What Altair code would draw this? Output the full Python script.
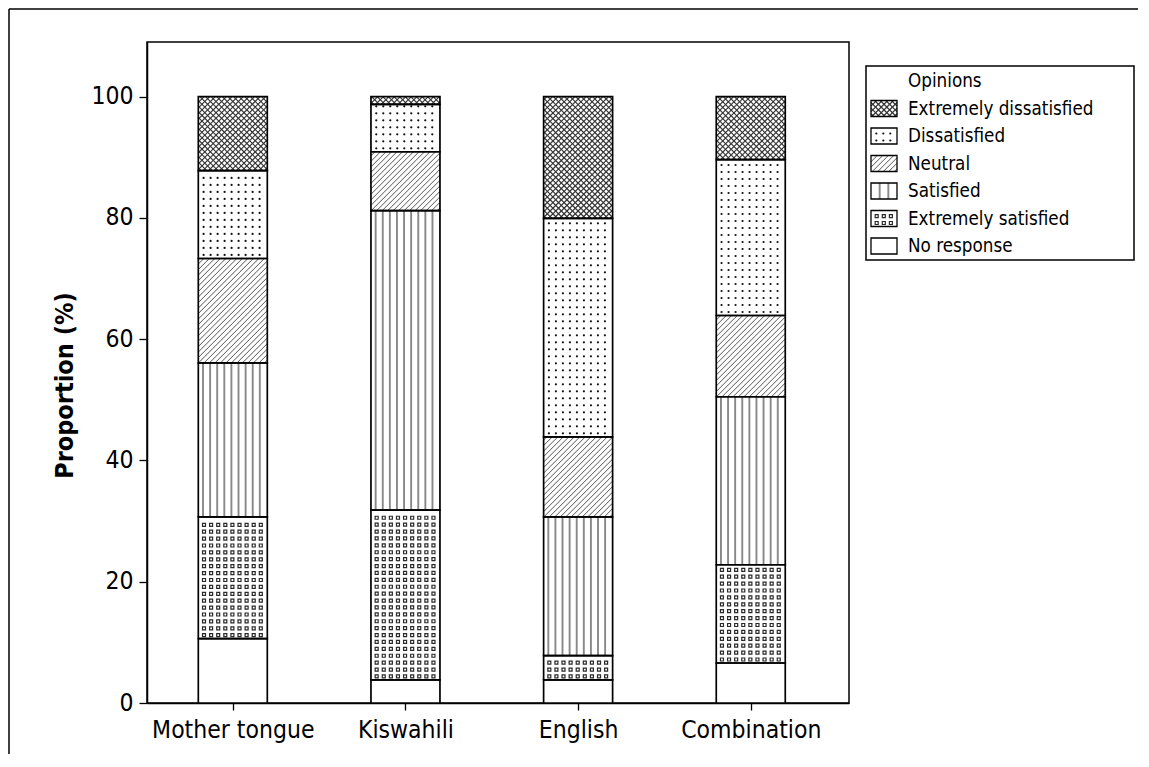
import json
import altair as alt
import pandas as pd

# ---------------- data ----------------
languages = ["Mother tongue", "Kiswahili", "English", "Combination"]
opinions = ["No response", "Extremely satisfied", "Satisfied", "Neutral",
            "Dissatisfied", "Extremely dissatisfied"]          # stacking order, bottom -> top
no_response            = [10.6,  3.8,  3.8,  6.6]
extremely_satisfied    = [20.1, 28.0,  4.0, 16.2]
satisfied              = [25.4, 49.4, 22.9, 27.7]
neutral                = [17.2,  9.7, 13.2, 13.4]
dissatisfied           = [14.5,  7.8, 36.0, 25.7]
extremely_dissatisfied = [12.2,  1.3, 20.1, 10.4]
legend_title = "Opinions"
legend_order = ["Extremely dissatisfied", "Dissatisfied", "Neutral", "Satisfied",
                "Extremely satisfied", "No response"]
y_ticks = [0, 20, 40, 60, 80, 100]
y_title = "Proportion (%)"

series = [no_response, extremely_satisfied, satisfied, neutral,
          dissatisfied, extremely_dissatisfied]

# ---------------- layout / style ----------------
FONT = "DejaVu Sans Condensed, DejaVu Sans"
PLOT_W, PLOT_H = 702, 661
Y_MAX = 109
PXU = PLOT_H / Y_MAX                 # px per percentage point
X_MIN, X_MAX = 0.503, 4.569          # category slots 1..4
XU = PLOT_W / (X_MAX - X_MIN)        # px per category slot
BAR_W = 69
HALF = BAR_W / 2 / XU
FRAME_L, FRAME_T, FRAME_B = 138, 33, 712
LX0 = PLOT_W + 17                    # legend box left (px from plot left)
LEG_W = 268
BOX_T, BOX_B = 24, 218
SW_X0, SW_W, SW_H = 5, 26, 16
ROW0, ROW_STEP = 39, 27.5            # legend row centres (px from plot top)
TEXT_X = 42

PATTERN = {"No response": None, "Extremely satisfied": "squares", "Satisfied": "vlines",
           "Neutral": "diag", "Dissatisfied": "dots", "Extremely dissatisfied": "cross"}


def pattern(kind, w, h, legend=False):
    """Decorative fill pattern inside a w x h pixel box (y measured from the bottom)."""
    lines, squares, dots = [], [], []
    if kind == "vlines":
        xs = [w / 3, 2 * w / 3] if legend else [4.7 + 7.1 * k for k in range(9) if 4.7 + 7.1 * k < w - 2]
        for x in xs:
            lines.append((x, 0, x, h, "#888888", 1.9))
    elif kind in ("diag", "cross"):
        sp = 5.5 if kind == "diag" else 5.6
        col = "#555555" if kind == "diag" else "#333333"
        wd = 1.0 if kind == "diag" else 1.15
        c = -w + sp / 2
        while c < h:
            xs_, xe = max(0.0, -c), min(w, h - c)
            if xe - xs_ > 0.3:
                lines.append((xs_, xs_ + c, xe, xe + c, col, wd))
            c += sp
        if kind == "cross":
            c = sp / 2
            while c < w + h:
                xs_, xe = max(0.0, c - h), min(w, c)
                if xe - xs_ > 0.3:
                    lines.append((xs_, c - xs_, xe, c - xe, col, wd))
                c += sp
    elif kind in ("squares", "dots"):
        x0, y0, sx, sy = (5.7, 3.5, 7.1, 6.9) if kind == "squares" else (5.3, 3.5, 7.0, 7.0)
        target = squares if kind == "squares" else dots
        y = y0
        while y < h - 1.5:
            x = x0
            while x < w - 1.5:
                target.append((x, y))
                x += sx
            y += sy
    return lines, squares, dots


# ---------------- main chart tables ----------------
rects, mlines, msq, mdots = [], [], [], []
for i, lang in enumerate(languages):
    pos = i + 1
    xl, xr = pos - HALF, pos + HALF
    lo = 0.0
    for op, ser in zip(opinions, series):
        hi = lo + ser[i]
        rects.append(dict(lang=lang, op=op, xl=xl, xr=xr, lo=lo, hi=hi))
        L, S, D = pattern(PATTERN[op], BAR_W, (hi - lo) * PXU)
        for j, (xa, ya, xb, yb, c, w) in enumerate(L):
            lid = f"{lang}|{op}|{j}"
            mlines.append(dict(lid=lid, k=0, x=xl + xa / XU, val=lo + ya / PXU, c=c, w=w))
            mlines.append(dict(lid=lid, k=1, x=xl + xb / XU, val=lo + yb / PXU, c=c, w=w))
        for (x, y) in S:
            msq.append(dict(x=xl + x / XU, val=lo + y / PXU))
        for (x, y) in D:
            mdots.append(dict(x=xl + x / XU, val=lo + y / PXU))
        lo = hi

xs = alt.Scale(domain=[X_MIN, X_MAX], nice=False, zero=False)
ys = alt.Scale(domain=[0, Y_MAX], nice=False, zero=True)
xax = alt.Axis(title=None, values=[i + 1 for i in range(len(languages))],
               labelExpr=f"{json.dumps(languages)}[datum.value - 1]", grid=False,
               labelFont=FONT, labelFontSize=24.5, labelColor="black", labelFlush=False,
               tickSize=7, tickColor="black", tickWidth=1.3, domainColor="black",
               domainWidth=1.5, labelPadding=8, labelAngle=0)
yax = alt.Axis(title=y_title, values=y_ticks, grid=False, labelFont=FONT, labelFontSize=24.5,
               labelColor="black", tickSize=8, tickColor="black", tickWidth=1.3,
               domainColor="black", domainWidth=1.5, labelPadding=6,
               titleFont=FONT, titleFontSize=25, titleFontWeight="bold", titleColor="black",
               titlePadding=13, titleY=343)

bars_fill = alt.Chart(pd.DataFrame(rects)).mark_rect(fill="white", strokeOpacity=0).encode(
    x=alt.X("xl:Q", scale=xs, axis=xax), x2="xr:Q",
    y=alt.Y("lo:Q", scale=ys, axis=yax), y2="hi:Q")

pat_lines = alt.Chart(pd.DataFrame(mlines)).mark_line(strokeCap="butt").encode(
    x=alt.X("x:Q", scale=xs, axis=None), y=alt.Y("val:Q", scale=ys, axis=None),
    order="k:Q", detail="lid:N", color=alt.Color("c:N", scale=None),
    strokeWidth=alt.StrokeWidth("w:Q", scale=None))

pat_sq = alt.Chart(pd.DataFrame(msq)).mark_square(filled=False, size=9, color="#2a2a2a",
                                                   strokeWidth=1.2, opacity=1).encode(
    x=alt.X("x:Q", scale=xs, axis=None), y=alt.Y("val:Q", scale=ys, axis=None))

pat_dots = alt.Chart(pd.DataFrame(mdots)).mark_circle(size=5, color="#111111", opacity=1).encode(
    x=alt.X("x:Q", scale=xs, axis=None), y=alt.Y("val:Q", scale=ys, axis=None))

bars_line = alt.Chart(pd.DataFrame(rects)).mark_rect(fillOpacity=0, stroke="black",
                                                      strokeWidth=1.7).encode(
    x=alt.X("xl:Q", scale=xs, axis=None), x2="xr:Q",
    y=alt.Y("lo:Q", scale=ys, axis=None), y2="hi:Q")

one = pd.DataFrame({"k": [0]})
frame_top = alt.Chart(one).mark_rule(color="black", strokeWidth=1.5).encode(
    x=alt.value(-FRAME_L), x2=alt.value(LX0 + 272), y=alt.value(-FRAME_T))
frame_left = alt.Chart(one).mark_rule(color="black", strokeWidth=1.5).encode(
    x=alt.value(-FRAME_L), y=alt.value(-FRAME_T), y2=alt.value(FRAME_B))

# ---------------- legend (drawn beside the plot, own scales) ----------------
HS = (SW_H / 2) / ROW_STEP          # half swatch height in row units
lrows, llines, lsq, ldots = [], [], [], []
for r, op in enumerate(legend_order, start=1):
    lrows.append(dict(op=op, x0=0.0, x1=1.0, r0=r - HS, r1=r + HS))
    bottom = r + HS
    L, S, D = pattern(PATTERN[op], SW_W, SW_H, legend=True)
    for j, (xa, ya, xb, yb, c, w) in enumerate(L):
        lid = f"{op}|{j}"
        llines.append(dict(lid=lid, k=0, t=xa / SW_W, r=bottom - ya / ROW_STEP, c=c, w=w))
        llines.append(dict(lid=lid, k=1, t=xb / SW_W, r=bottom - yb / ROW_STEP, c=c, w=w))
    for (x, y) in S:
        lsq.append(dict(t=x / SW_W, r=bottom - y / ROW_STEP))
    for (x, y) in D:
        ldots.append(dict(t=x / SW_W, r=bottom - y / ROW_STEP))

n_rows = len(legend_order)
lxs = alt.Scale(domain=[0, 1], range=[LX0 + SW_X0, LX0 + SW_X0 + SW_W], nice=False, zero=False)
lys = alt.Scale(domain=[0, n_rows], range=[ROW0, ROW0 + n_rows * ROW_STEP], nice=False, zero=False)

leg_box = alt.Chart(one).mark_rect(fill="white", stroke="black", strokeWidth=1.5).encode(
    x=alt.value(LX0), x2=alt.value(LX0 + LEG_W), y=alt.value(BOX_T), y2=alt.value(BOX_B))
sw_fill = alt.Chart(pd.DataFrame(lrows)).mark_rect(fill="white").encode(
    x=alt.X("x0:Q", scale=lxs, axis=None), x2="x1:Q",
    y=alt.Y("r0:Q", scale=lys, axis=None), y2="r1:Q")
sw_lines = alt.Chart(pd.DataFrame(llines)).mark_line(strokeCap="butt").encode(
    x=alt.X("t:Q", scale=lxs, axis=None), y=alt.Y("r:Q", scale=lys, axis=None),
    order="k:Q", detail="lid:N", color=alt.Color("c:N", scale=None),
    strokeWidth=alt.StrokeWidth("w:Q", scale=None))
sw_sq = alt.Chart(pd.DataFrame(lsq)).mark_square(filled=False, size=9, color="#2a2a2a",
                                                 strokeWidth=1.2, opacity=1).encode(
    x=alt.X("t:Q", scale=lxs, axis=None), y=alt.Y("r:Q", scale=lys, axis=None))
sw_dots = alt.Chart(pd.DataFrame(ldots)).mark_circle(size=5, color="#111111", opacity=1).encode(
    x=alt.X("t:Q", scale=lxs, axis=None), y=alt.Y("r:Q", scale=lys, axis=None))
sw_line = alt.Chart(pd.DataFrame(lrows)).mark_rect(fillOpacity=0, stroke="black",
                                                   strokeWidth=1.3).encode(
    x=alt.X("x0:Q", scale=lxs, axis=None), x2="x1:Q",
    y=alt.Y("r0:Q", scale=lys, axis=None), y2="r1:Q")
leg_text = alt.Chart(pd.DataFrame({"label": [legend_title] + legend_order,
                                   "r": list(range(n_rows + 1))})).mark_text(
    align="left", baseline="middle", font=FONT, fontSize=18.7, color="black").encode(
    x=alt.value(LX0 + TEXT_X), y=alt.Y("r:Q", scale=lys, axis=None), text="label:N")

chart = alt.layer(
    bars_fill, pat_lines, pat_sq, pat_dots, bars_line, frame_top, frame_left,
    leg_box, sw_fill, sw_lines, sw_sq, sw_dots, sw_line, leg_text
).resolve_scale(x="independent", y="independent").properties(
    width=PLOT_W, height=PLOT_H, padding=0
).configure_view(stroke="black", strokeWidth=1.5)

chart.save("out.html", embed_options={"renderer": "svg", "actions": False})
